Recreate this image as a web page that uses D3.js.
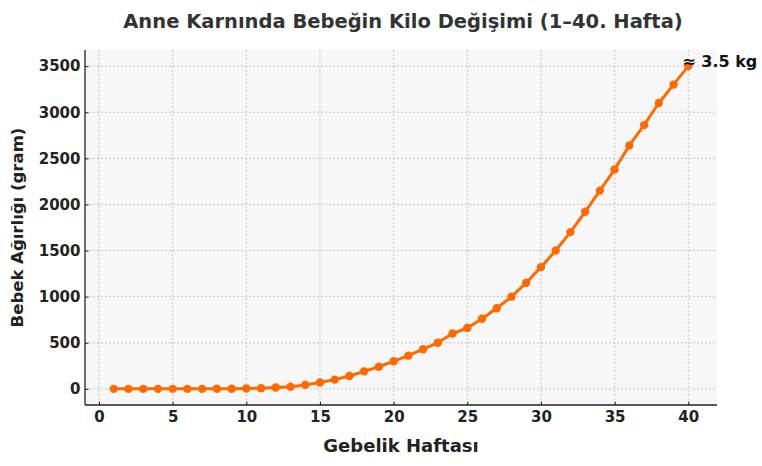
<!DOCTYPE html>
<html><head><meta charset="utf-8">
<script src="https://cdn.jsdelivr.net/npm/d3@7"></script>
<style>
body{margin:0;background:#fff;}
text{font-family:"DejaVu Sans",sans-serif;font-weight:bold;}
</style></head>
<body><svg id="c" width="762" height="466"></svg>
<script>
const weeks = d3.range(1, 41);
const weights = [0,0,0,0,0,0,0,1,2,4,7,14,23,43,70,100,140,190,240,300,360,430,500,600,660,760,875,1000,1150,1320,1500,1700,1920,2150,2380,2640,2860,3100,3300,3500];
const xTicks = [0,5,10,15,20,25,30,35,40];
const yTicks = [0,500,1000,1500,2000,2500,3000,3500];
const title = "Anne Karnında Bebeğin Kilo Değişimi (1–40. Hafta)";
const xLabel = "Gebelik Haftası";
const yLabel = "Bebek Ağırlığı (gram)";
const note = "≈ 3.5 kg";

const svg = d3.select("#c");
const L = 85, R = 717, T = 50, B = 405;
const x = d3.scaleLinear().domain([-0.95, 41.95]).range([L, R]);
const y = d3.scaleLinear().domain([-175, 3675]).range([B, T]);

svg.append("rect").attr("x", L).attr("y", T).attr("width", R - L).attr("height", B - T).attr("fill", "#f7f7f7");

const g = svg.append("g");
g.selectAll(".gx").data(xTicks).join("line")
  .attr("x1", d => x(d)).attr("x2", d => x(d)).attr("y1", T).attr("y2", B)
  .attr("stroke", "#b8b8b8").attr("stroke-width", 0.8).attr("stroke-dasharray", "2,2");
g.selectAll(".gy").data(yTicks).join("line")
  .attr("y1", d => y(d)).attr("y2", d => y(d)).attr("x1", L).attr("x2", R)
  .attr("stroke", "#b8b8b8").attr("stroke-width", 0.8).attr("stroke-dasharray", "2,2");

const xAxis = svg.append("g").attr("transform", `translate(0,${B})`)
  .call(d3.axisBottom(x).tickValues(xTicks).tickFormat(d3.format("d")).tickSizeInner(-3.5).tickSizeOuter(0).tickPadding(6));
const yAxis = svg.append("g").attr("transform", `translate(${L},0)`)
  .call(d3.axisLeft(y).tickValues(yTicks).tickFormat(d3.format("d")).tickSizeInner(-3.5).tickSizeOuter(0).tickPadding(4.5));
[xAxis, yAxis].forEach(a => {
  a.select(".domain").attr("stroke", "#222").attr("stroke-width", 1.3);
  a.selectAll(".tick line").attr("stroke", "#222").attr("stroke-width", 1);
  a.selectAll(".tick text").attr("fill", "#222").style("font-size", "15px")
   .style("font-family", "DejaVu Sans").style("font-weight", "bold");
});
xAxis.select(".domain").attr("d", `M${L},0H${R}`);
yAxis.select(".domain").attr("d", `M0,${B}V${T}`);

const line = d3.line().x((d, i) => x(weeks[i])).y(d => y(d));
svg.append("path").datum(weights).attr("d", line)
  .attr("fill", "none").attr("stroke", "#ff6a00").attr("stroke-width", 3).attr("stroke-linejoin", "round");
svg.selectAll(".pt").data(weights).join("circle")
  .attr("cx", (d, i) => x(weeks[i])).attr("cy", d => y(d)).attr("r", 4.2).attr("fill", "#ff6a00");

svg.append("text").attr("x", x(40) - 6).attr("y", y(3500) + 1)
  .attr("fill", "#111").style("font-size", "16px").text(note);

svg.append("text").attr("x", (L + R) / 2 + 2).attr("y", 28).attr("text-anchor", "middle")
  .attr("fill", "#333").style("font-size", "19.5px").text(title);
svg.append("text").attr("x", (L + R) / 2).attr("y", 452).attr("text-anchor", "middle")
  .attr("fill", "#222").style("font-size", "18px").text(xLabel);
svg.append("text").attr("transform", `translate(23,${(T + B) / 2}) rotate(-90)`).attr("text-anchor", "middle")
  .attr("fill", "#222").style("font-size", "16.5px").text(yLabel);
</script></body></html>
